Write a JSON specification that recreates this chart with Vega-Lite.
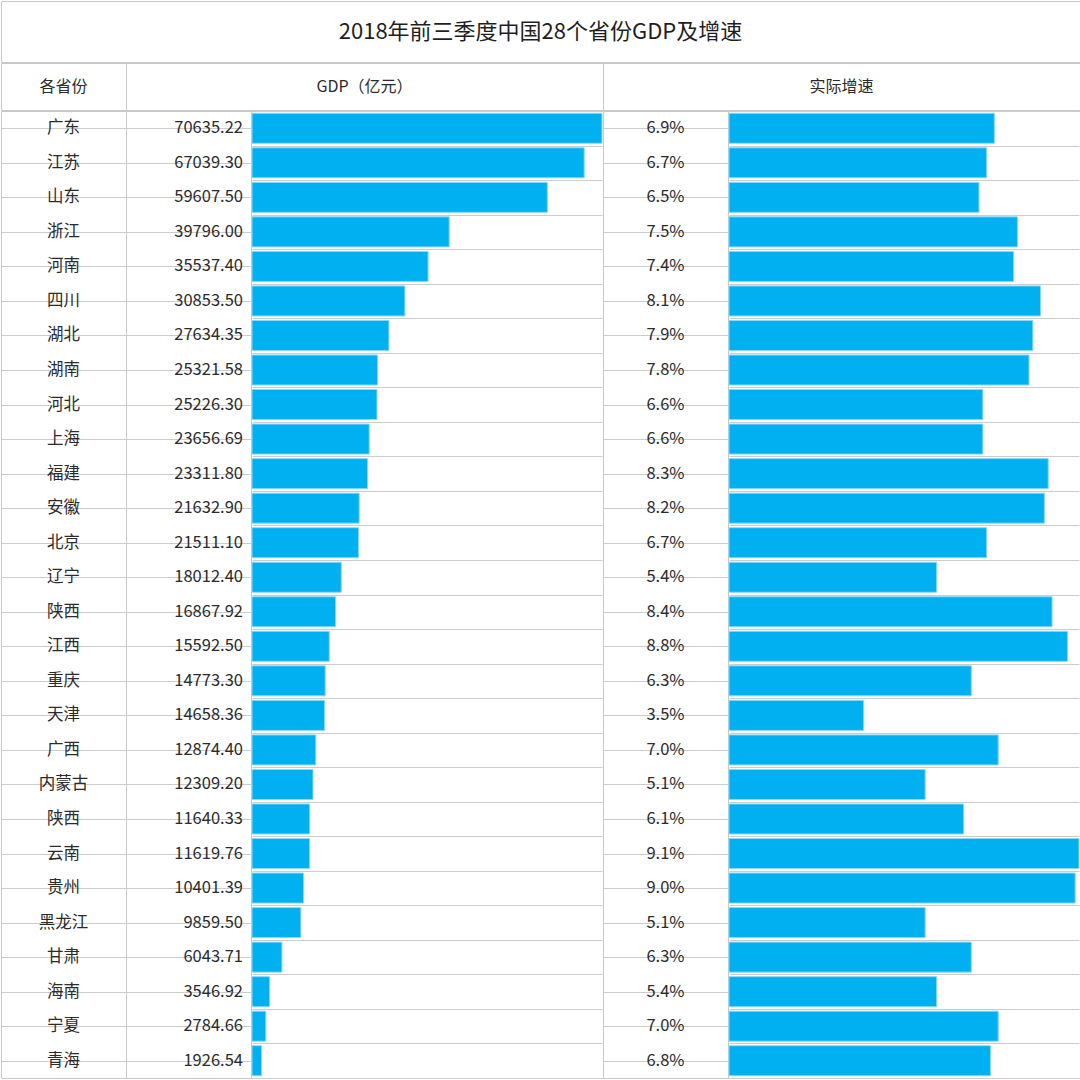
{
  "$schema": "https://vega.github.io/schema/vega-lite/v6.json",
  "padding": 0,
  "background": "white",
  "spacing": -4,
  "datasets": {
    "prov": [
      {"rank": 1, "province": "广东", "gdp": 70635.22, "growth": 0.069},
      {"rank": 2, "province": "江苏", "gdp": 67039.30, "growth": 0.067},
      {"rank": 3, "province": "山东", "gdp": 59607.50, "growth": 0.065},
      {"rank": 4, "province": "浙江", "gdp": 39796.00, "growth": 0.075},
      {"rank": 5, "province": "河南", "gdp": 35537.40, "growth": 0.074},
      {"rank": 6, "province": "四川", "gdp": 30853.50, "growth": 0.081},
      {"rank": 7, "province": "湖北", "gdp": 27634.35, "growth": 0.079},
      {"rank": 8, "province": "湖南", "gdp": 25321.58, "growth": 0.078},
      {"rank": 9, "province": "河北", "gdp": 25226.30, "growth": 0.066},
      {"rank": 10, "province": "上海", "gdp": 23656.69, "growth": 0.066},
      {"rank": 11, "province": "福建", "gdp": 23311.80, "growth": 0.083},
      {"rank": 12, "province": "安徽", "gdp": 21632.90, "growth": 0.082},
      {"rank": 13, "province": "北京", "gdp": 21511.10, "growth": 0.067},
      {"rank": 14, "province": "辽宁", "gdp": 18012.40, "growth": 0.054},
      {"rank": 15, "province": "陕西", "gdp": 16867.92, "growth": 0.084},
      {"rank": 16, "province": "江西", "gdp": 15592.50, "growth": 0.088},
      {"rank": 17, "province": "重庆", "gdp": 14773.30, "growth": 0.063},
      {"rank": 18, "province": "天津", "gdp": 14658.36, "growth": 0.035},
      {"rank": 19, "province": "广西", "gdp": 12874.40, "growth": 0.070},
      {"rank": 20, "province": "内蒙古", "gdp": 12309.20, "growth": 0.051},
      {"rank": 21, "province": "陕西", "gdp": 11640.33, "growth": 0.061},
      {"rank": 22, "province": "云南", "gdp": 11619.76, "growth": 0.091},
      {"rank": 23, "province": "贵州", "gdp": 10401.39, "growth": 0.090},
      {"rank": 24, "province": "黑龙江", "gdp": 9859.50, "growth": 0.051},
      {"rank": 25, "province": "甘肃", "gdp": 6043.71, "growth": 0.063},
      {"rank": 26, "province": "海南", "gdp": 3546.92, "growth": 0.054},
      {"rank": 27, "province": "宁夏", "gdp": 2784.66, "growth": 0.070},
      {"rank": 28, "province": "青海", "gdp": 1926.54, "growth": 0.068}
    ]
  },
  "config": {
    "view": {"stroke": "#c8c8c8", "strokeWidth": 1},
    "font": "Noto Sans CJK SC",
    "text": {"font": "Noto Sans CJK SC", "fontSize": 16.5, "color": "#2b2b2b", "baseline": "middle"},
    "axisY": {
      "grid": true,
      "tickBand": "extent",
      "labels": false,
      "ticks": false,
      "domain": false,
      "title": null,
      "gridColor": "#cccccc",
      "gridWidth": 1,
      "minExtent": 0,
      "maxExtent": 0
    }
  },
  "vconcat": [
    {
      "width": 1079,
      "height": 61,
      "data": {"values": [{"t": "2018年前三季度中国28个省份GDP及增速"}]},
      "mark": {"type": "text", "fontSize": 22, "color": "#1f1f1f"},
      "encoding": {
        "x": {"field": "t", "type": "nominal", "axis": null},
        "y": {"field": "t", "type": "nominal", "axis": null},
        "text": {"field": "t"}
      }
    },
    {
      "spacing": 0,
      "bounds": "flush",
      "hconcat": [
        {
          "width": 125,
          "height": 47,
          "data": {"values": [{"t": "各省份"}]},
          "mark": {"type": "text", "fontSize": 16},
          "encoding": {
            "x": {"field": "t", "type": "nominal", "axis": null},
            "y": {"field": "t", "type": "nominal", "axis": null},
            "text": {"field": "t"}
          }
        },
        {
          "width": 477,
          "height": 47,
          "data": {"values": [{"t": "GDP（亿元）"}]},
          "mark": {"type": "text", "fontSize": 16},
          "encoding": {
            "x": {"field": "t", "type": "nominal", "axis": null},
            "y": {"field": "t", "type": "nominal", "axis": null},
            "text": {"field": "t"}
          }
        },
        {
          "width": 477,
          "height": 47,
          "data": {"values": [{"t": "实际增速"}]},
          "mark": {"type": "text", "fontSize": 16},
          "encoding": {
            "x": {"field": "t", "type": "nominal", "axis": null},
            "y": {"field": "t", "type": "nominal", "axis": null},
            "text": {"field": "t"}
          }
        }
      ]
    },
    {
      "spacing": 0,
      "bounds": "flush",
      "hconcat": [
        {
          "width": 125,
          "height": 967,
          "data": {"name": "prov"},
          "mark": {"type": "text"},
          "encoding": {
            "y": {"field": "rank", "type": "ordinal", "scale": {"paddingInner": 0, "paddingOuter": 0}},
            "text": {"field": "province"}
          }
        },
        {
          "width": 125,
          "height": 967,
          "data": {"name": "prov"},
          "mark": {"type": "text", "align": "right", "x": {"expr": "width"}, "dx": -8},
          "encoding": {
            "y": {"field": "rank", "type": "ordinal", "scale": {"paddingInner": 0, "paddingOuter": 0}},
            "text": {"field": "gdp", "type": "quantitative", "format": ".2f"}
          }
        },
        {
          "width": 352,
          "height": 967,
          "data": {"name": "prov"},
          "mark": {"type": "bar", "color": "#00b0f0", "height": {"band": 0.87}, "stroke": "#8fd8f5", "strokeWidth": 1},
          "encoding": {
            "y": {"field": "rank", "type": "ordinal", "scale": {"paddingInner": 0, "paddingOuter": 0}},
            "x": {"field": "gdp", "type": "quantitative", "scale": {"domain": [0, 70635.22], "range": [1, 351], "nice": false}, "axis": null}
          }
        },
        {
          "width": 125,
          "height": 967,
          "data": {"name": "prov"},
          "mark": {"type": "text"},
          "encoding": {
            "y": {"field": "rank", "type": "ordinal", "scale": {"paddingInner": 0, "paddingOuter": 0}},
            "text": {"field": "growth", "type": "quantitative", "format": ".1%"}
          }
        },
        {
          "width": 352,
          "height": 967,
          "data": {"name": "prov"},
          "mark": {"type": "bar", "color": "#00b0f0", "height": {"band": 0.87}, "stroke": "#8fd8f5", "strokeWidth": 1},
          "encoding": {
            "y": {"field": "rank", "type": "ordinal", "scale": {"paddingInner": 0, "paddingOuter": 0}},
            "x": {"field": "growth", "type": "quantitative", "scale": {"domain": [0, 0.091], "range": [1, 351], "nice": false}, "axis": null}
          }
        }
      ]
    }
  ]
}
